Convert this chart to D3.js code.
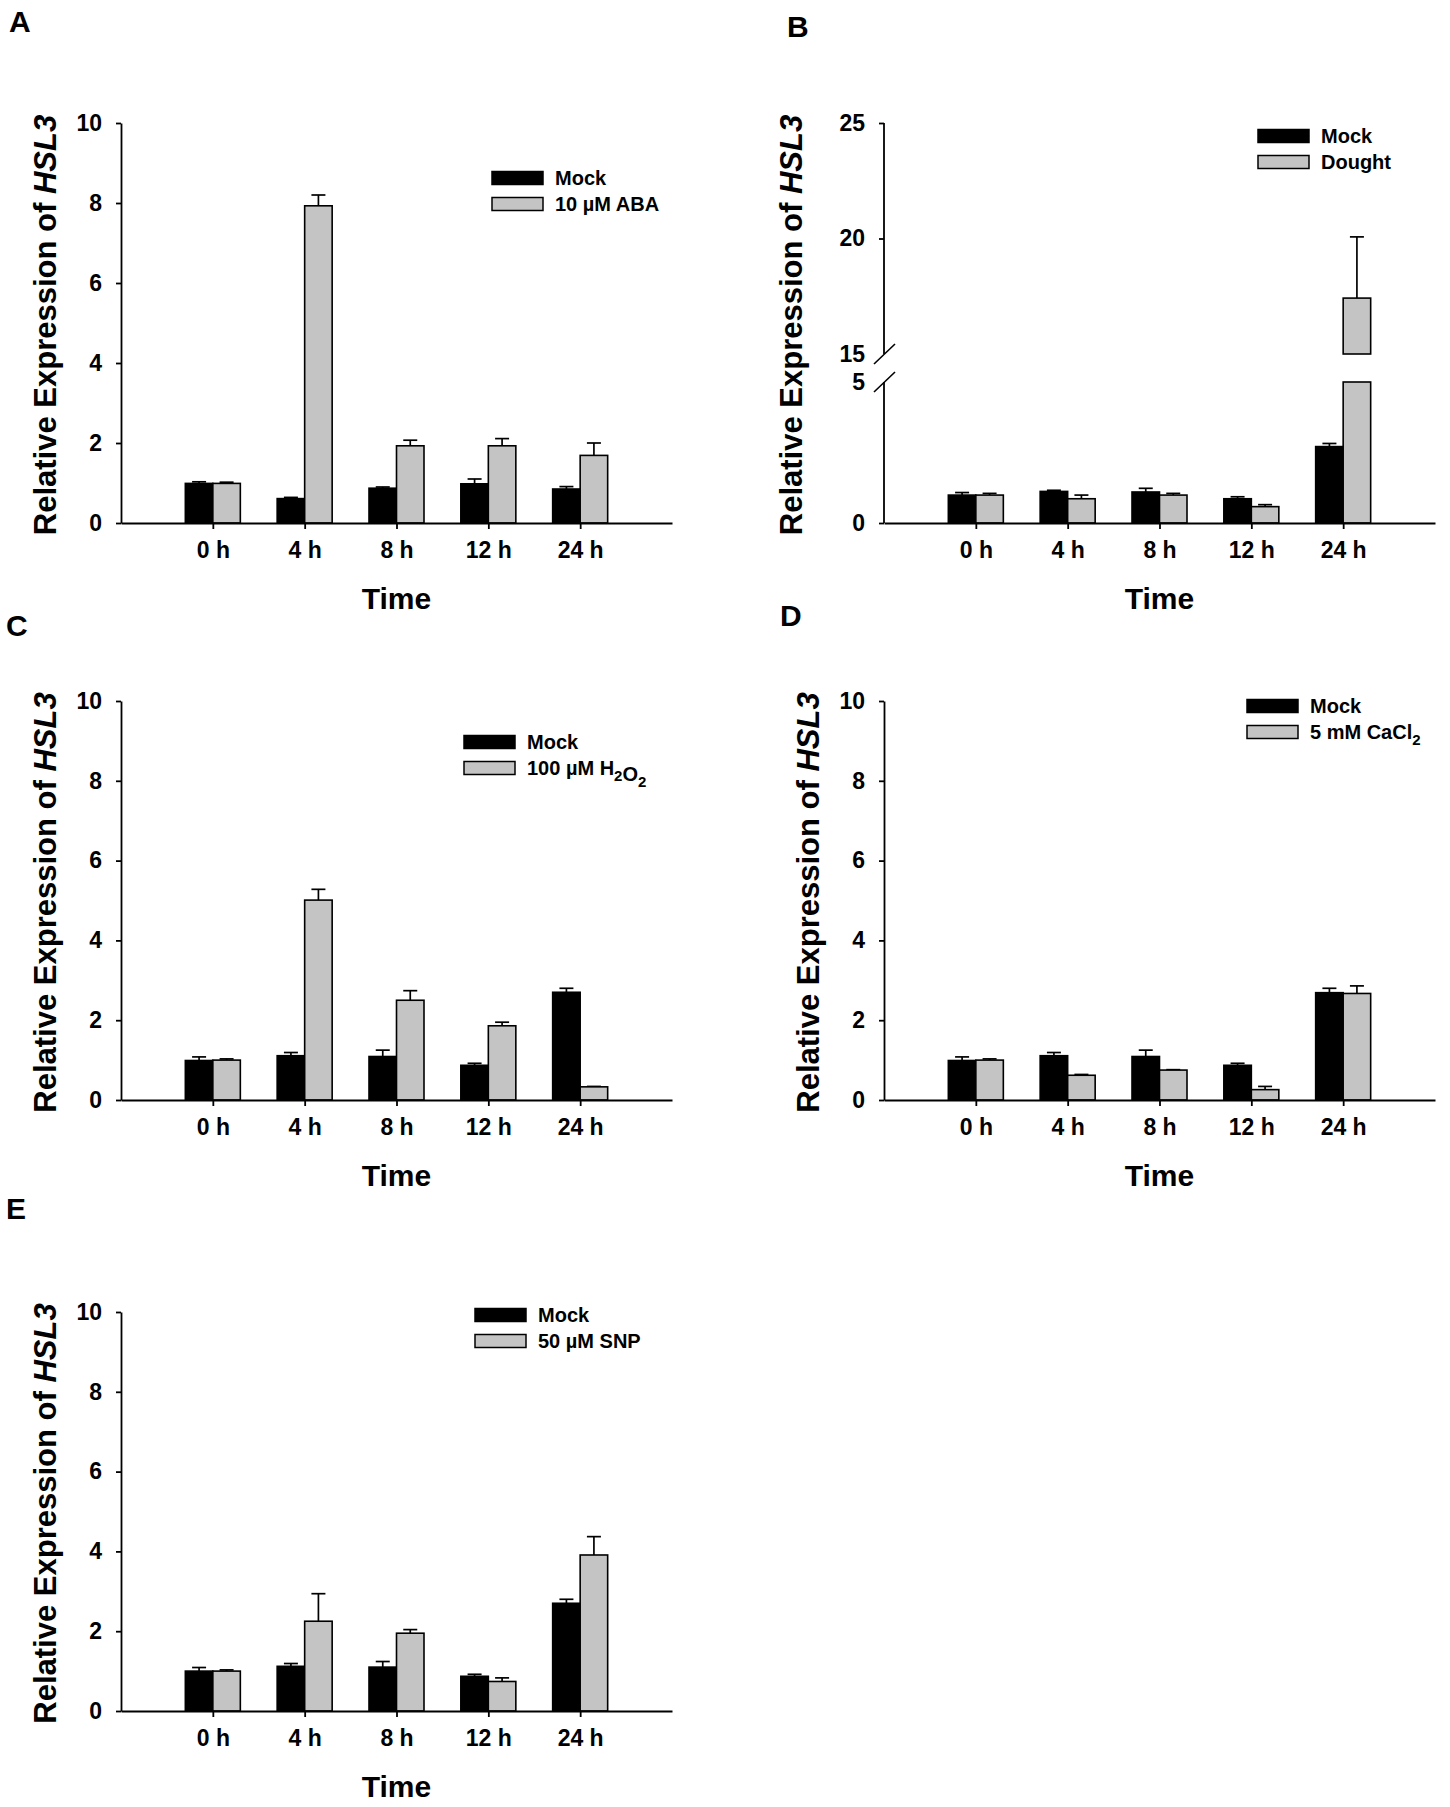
<!DOCTYPE html>
<html>
<head>
<meta charset="utf-8">
<script src="https://cdn.jsdelivr.net/npm/d3@7/dist/d3.min.js"></script>
<style>
  body { margin: 0; background: #fff; }
  text { font-family: "Liberation Sans", Arial, sans-serif; font-weight: bold; fill: #000; }
</style>
</head>
<body>
<svg id="fig" width="1450" height="1807"></svg>
<script>
// time points shared by every panel
const timeLabels = ["0 h", "4 h", "8 h", "12 h", "24 h"];

// A: ABA
const abaMock    = [0.99, 0.61, 0.87, 0.98, 0.85];
const abaMockErr = [0.04, 0.03, 0.03, 0.12, 0.06];
const abaTrt     = [0.99, 7.93, 1.93, 1.93, 1.69];
const abaTrtErr  = [0.03, 0.27, 0.14, 0.18, 0.31];

// B: drought (broken axis)
const drMock    = [0.99, 1.12, 1.10, 0.86, 2.71];
const drMockErr = [0.09, 0.04, 0.13, 0.07, 0.11];
const drTrt     = [0.99, 0.86, 0.99, 0.58, 17.42];
const drTrtErr  = [0.06, 0.13, 0.06, 0.07, 2.65];

// C: H2O2
const h2o2Mock    = [0.99, 1.11, 1.09, 0.87, 2.70];
const h2o2MockErr = [0.09, 0.08, 0.16, 0.05, 0.10];
const h2o2Trt     = [1.00, 5.01, 2.50, 1.86, 0.33];
const h2o2TrtErr  = [0.03, 0.27, 0.24, 0.09, 0.01];

// D: CaCl2
const caMock    = [0.99, 1.11, 1.09, 0.87, 2.69];
const caMockErr = [0.09, 0.08, 0.16, 0.05, 0.11];
const caTrt     = [1.00, 0.62, 0.75, 0.26, 2.67];
const caTrtErr  = [0.03, 0.02, 0.01, 0.08, 0.19];

// E: SNP
const snpMock    = [1.00, 1.12, 1.10, 0.87, 2.70];
const snpMockErr = [0.09, 0.07, 0.14, 0.05, 0.10];
const snpTrt     = [1.00, 2.25, 1.95, 0.74, 3.91];
const snpTrtErr  = [0.03, 0.69, 0.09, 0.09, 0.46];

const yTicksStd = [0, 2, 4, 6, 8, 10];
const yTicksBreak = [0, 5, 15, 20, 25];

const svg = d3.select("#fig");
const grey = "#c4c4c4";

const panels = [
  {letter: "A", lx: 9, ly: 32, left: 121, right: 672, top: 123, bottom: 523, titleX: 45,
   legX: 492, legY: 178, legend: "10 µM ABA",
   mock: abaMock, mockErr: abaMockErr, trt: abaTrt, trtErr: abaTrtErr},
  {letter: "B", lx: 787, ly: 37, left: 884, right: 1435, top: 123, bottom: 523, titleX: 791,
   legX: 1258, legY: 136, legend: "Dought", broken: true,
   mock: drMock, mockErr: drMockErr, trt: drTrt, trtErr: drTrtErr},
  {letter: "C", lx: 6, ly: 636, left: 121, right: 672, top: 701, bottom: 1100, titleX: 45,
   legX: 464, legY: 742, legend: "100 µM H_2O_2",
   mock: h2o2Mock, mockErr: h2o2MockErr, trt: h2o2Trt, trtErr: h2o2TrtErr},
  {letter: "D", lx: 780, ly: 626, left: 884, right: 1435, top: 701, bottom: 1100, titleX: 808,
   legX: 1247, legY: 706, legend: "5 mM CaCl_2",
   mock: caMock, mockErr: caMockErr, trt: caTrt, trtErr: caTrtErr},
  {letter: "E", lx: 6, ly: 1219, left: 121, right: 672, top: 1312, bottom: 1711, titleX: 45,
   legX: 475, legY: 1315, legend: "50 µM SNP",
   mock: snpMock, mockErr: snpMockErr, trt: snpTrt, trtErr: snpTrtErr}
];

// text with "_2" style subscripts
function richText(sel, str) {
  const parts = str.split(/(_\d)/);
  parts.forEach(s => {
    if (!s) return;
    if (s[0] === "_") {
      sel.append("tspan").attr("dy", 6).attr("font-size", 15).text(s.slice(1));
      sel.append("tspan").attr("dy", -6).text("");
    } else {
      sel.append("tspan").text(s);
    }
  });
}

function drawPanel(p) {
  const g = svg.append("g");
  const x = d3.scaleLinear().domain([0, 6]).range([p.left, p.right]);
  const y = p.broken
    ? d3.scaleLinear().domain([0, 5, 15, 25]).range([p.bottom, 382, 354, p.top])
    : d3.scaleLinear().domain([0, 10]).range([p.bottom, p.top]);
  const barW = 27.5;

  // bars
  const rows = timeLabels.map((t, i) => ({i: i + 1,
    series: [{v: p.mock[i], e: p.mockErr[i], fill: "#000", off: -barW},
             {v: p.trt[i], e: p.trtErr[i], fill: grey, off: 0}]}));

  rows.forEach(r => r.series.forEach(s => {
    const bx = x(r.i) + s.off;
    const segs = (p.broken && s.v > 5) ? [[0, 5], [15, s.v]] : [[0, s.v]];
    // error bar (upper only)
    const cx = bx + barW / 2;
    g.append("line").attr("x1", cx).attr("x2", cx)
      .attr("y1", y(s.v)).attr("y2", y(s.v + s.e))
      .attr("stroke", "#000").attr("stroke-width", 1.7);
    g.append("line").attr("x1", cx - 7).attr("x2", cx + 7)
      .attr("y1", y(s.v + s.e)).attr("y2", y(s.v + s.e))
      .attr("stroke", "#000").attr("stroke-width", 1.7);
    segs.forEach(([a, b]) => {
      g.append("rect").attr("x", bx).attr("width", barW)
        .attr("y", y(b)).attr("height", y(a) - y(b))
        .attr("fill", s.fill).attr("stroke", "#000").attr("stroke-width", 1.6);
    });
  }));

  // x axis
  const xAxis = g.append("g").attr("transform", `translate(0,${p.bottom})`)
    .call(d3.axisBottom(x).tickValues([1, 2, 3, 4, 5])
      .tickFormat(d => timeLabels[d - 1]).tickSizeInner(6).tickSizeOuter(0).tickPadding(13));
  xAxis.selectAll("text").attr("font-size", 23).attr("font-family", null);
  xAxis.selectAll("path,line").attr("stroke", "#000").attr("stroke-width", 1.8);

  // y axis
  const yAxis = g.append("g").attr("transform", `translate(${p.left},0)`)
    .call(d3.axisLeft(y).tickValues(p.broken ? yTicksBreak : yTicksStd)
      .tickSizeInner(5).tickSizeOuter(0).tickPadding(14));
  yAxis.selectAll("text").attr("font-size", 23).attr("font-family", null);
  yAxis.selectAll("path,line").attr("stroke", "#000").attr("stroke-width", 1.8);
  g.selectAll(".domain").attr("fill", "none");

  if (p.broken) {
    yAxis.select(".domain").remove();
    yAxis.selectAll(".tick").filter(d => d === 5 || d === 15).select("line").remove();
    [[p.bottom, y(5)], [y(15), p.top]].forEach(([a, b]) => {
      yAxis.append("line").attr("x1", 0).attr("x2", 0).attr("y1", a).attr("y2", b)
        .attr("stroke", "#000").attr("stroke-width", 1.8);
    });
    [y(5), y(15)].forEach(v => {
      yAxis.append("line").attr("x1", -10).attr("x2", 11).attr("y1", v + 10).attr("y2", v - 10)
        .attr("stroke", "#000").attr("stroke-width", 1.6);
    });
  }

  // axis titles
  g.append("text").attr("x", x(3)).attr("y", p.bottom + 86)
    .attr("text-anchor", "middle").attr("font-size", 30).text("Time");

  const yt = g.append("text")
    .attr("transform", `translate(${p.titleX + 11},${(p.top + p.bottom) / 2 + 2}) rotate(-90)`)
    .attr("text-anchor", "middle").attr("font-size", 31);
  yt.append("tspan").text("Relative Expression of ");
  yt.append("tspan").attr("font-style", "italic").text("HSL3");

  // legend
  const leg = g.append("g").attr("transform", `translate(${p.legX},${p.legY})`);
  [["Mock", "#000"], [p.legend, grey]].forEach(([lab, fill], k) => {
    const yy = k * 26;
    leg.append("rect").attr("x", 0).attr("y", yy - 6.5).attr("width", 51).attr("height", 13)
      .attr("fill", fill).attr("stroke", "#000").attr("stroke-width", 1.5);
    richText(leg.append("text").attr("x", 63).attr("y", yy + 7).attr("font-size", 20), lab);
  });

  // panel letter
  svg.append("text").attr("x", p.lx).attr("y", p.ly).attr("font-size", 30).text(p.letter);
}

panels.forEach(drawPanel);
</script>
</body>
</html>
